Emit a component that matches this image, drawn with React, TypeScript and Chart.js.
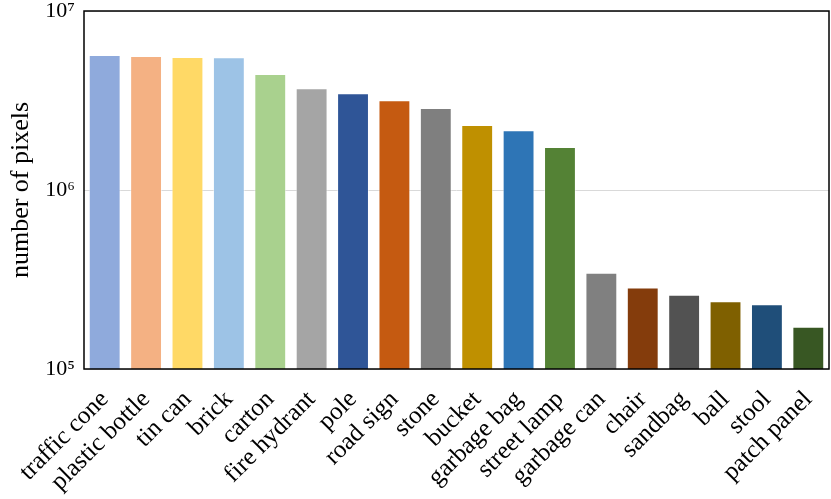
import React, { useEffect, useRef } from "react";
import { Chart, registerables } from "chart.js";

Chart.register(...registerables);

const categories = [
  "traffic cone", "plastic bottle", "tin can", "brick", "carton", "fire hydrant",
  "pole", "road sign", "stone", "bucket", "garbage bag", "street lamp",
  "garbage can", "chair", "sandbag", "ball", "stool", "patch panel",
];
const pixelCounts = [
  5.68e6, 5.61e6, 5.54e6, 5.52e6, 4.45e6, 3.70e6,
  3.47e6, 3.17e6, 2.87e6, 2.31e6, 2.16e6, 1.74e6,
  3.45e5, 2.85e5, 2.60e5, 2.39e5, 2.30e5, 1.72e5,
];
const barColors = [
  "#8faadc", "#f4b183", "#ffd966", "#9dc3e6", "#a9d18e", "#a5a5a5",
  "#2f5597", "#c55a11", "#7f7f7f", "#bf9000", "#2e75b6", "#548235",
  "#808080", "#843c0c", "#525252", "#7f6000", "#1f4e79", "#385723",
];
const yTicks = [1e5, 1e6, 1e7];
const yTickLabels = ["10⁵", "10⁶", "10⁷"];
const yTitle = "number of pixels";

const FONT = "Liberation Serif";

const boxPlugin = {
  id: "box",
  afterDraw(chart: any) {
    const { ctx, chartArea } = chart;
    ctx.save();
    ctx.strokeStyle = "#000";
    ctx.lineWidth = 1.5;
    ctx.strokeRect(chartArea.left, chartArea.top, chartArea.right - chartArea.left, chartArea.bottom - chartArea.top);
    ctx.restore();
  },
};

export default function App() {
  const ref = useRef<HTMLCanvasElement>(null);
  useEffect(() => {
    document.body.style.margin = "0";
    let chart: Chart | null = null;
    let cancelled = false;
    const make = () => {
      if (cancelled) return;
      chart = new Chart(ref.current!, {
        type: "bar",
        data: {
          labels: categories,
          datasets: [
            {
              data: pixelCounts,
              backgroundColor: barColors,
              borderColor: "rgba(255,255,255,0.5)",
              borderWidth: 1,
              barPercentage: 0.77,
              categoryPercentage: 1,
            },
          ],
        },
        options: {
          animation: false,
          responsive: false,
          maintainAspectRatio: false,
          layout: { padding: { top: 0, right: 2, left: 6, bottom: 0 } },
          plugins: { legend: { display: false }, tooltip: { enabled: false } },
          scales: {
            x: {
              grid: { display: false, drawTicks: false },
              border: { display: false },
              afterFit(scale: any) {
                scale.height = 130;
                scale.paddingLeft = 0;
                scale.paddingRight = 0;
              },
              ticks: {
                color: "#000",
                font: { family: FONT, size: 25 },
                minRotation: 45,
                maxRotation: 45,
                autoSkip: false,
                padding: 16,
              },
            },
            y: {
              type: "logarithmic",
              min: 1e5,
              max: 1e7,
              afterBuildTicks(scale: any) {
                scale.ticks = yTicks.map((v) => ({ value: v }));
              },
              afterFit(scale: any) {
                scale.width = 78;
                scale.paddingTop = 11;
                scale.paddingBottom = 11;
              },
              grid: { color: "#d9d9d9", drawTicks: false, lineWidth: 1 },
              border: { display: false },
              ticks: {
                color: "#000",
                font: { family: FONT, size: 22, lineHeight: 1 },
                padding: 9,
                callback: (v: any) => {
                  const i = yTicks.indexOf(Number(v));
                  return i >= 0 ? yTickLabels[i] : "";
                },
              },
              title: {
                display: true,
                text: yTitle,
                color: "#000",
                font: { family: FONT, size: 26 },
                padding: 0,
              },
            },
          },
        },
        plugins: [boxPlugin],
      });
    };
    (document as any).fonts.load("22px 'Liberation Serif'").then(make, make);
    return () => {
      cancelled = true;
      if (chart) chart.destroy();
    };
  }, []);
  return <canvas ref={ref} width={831} height={499} style={{ display: "block" }} />;
}
